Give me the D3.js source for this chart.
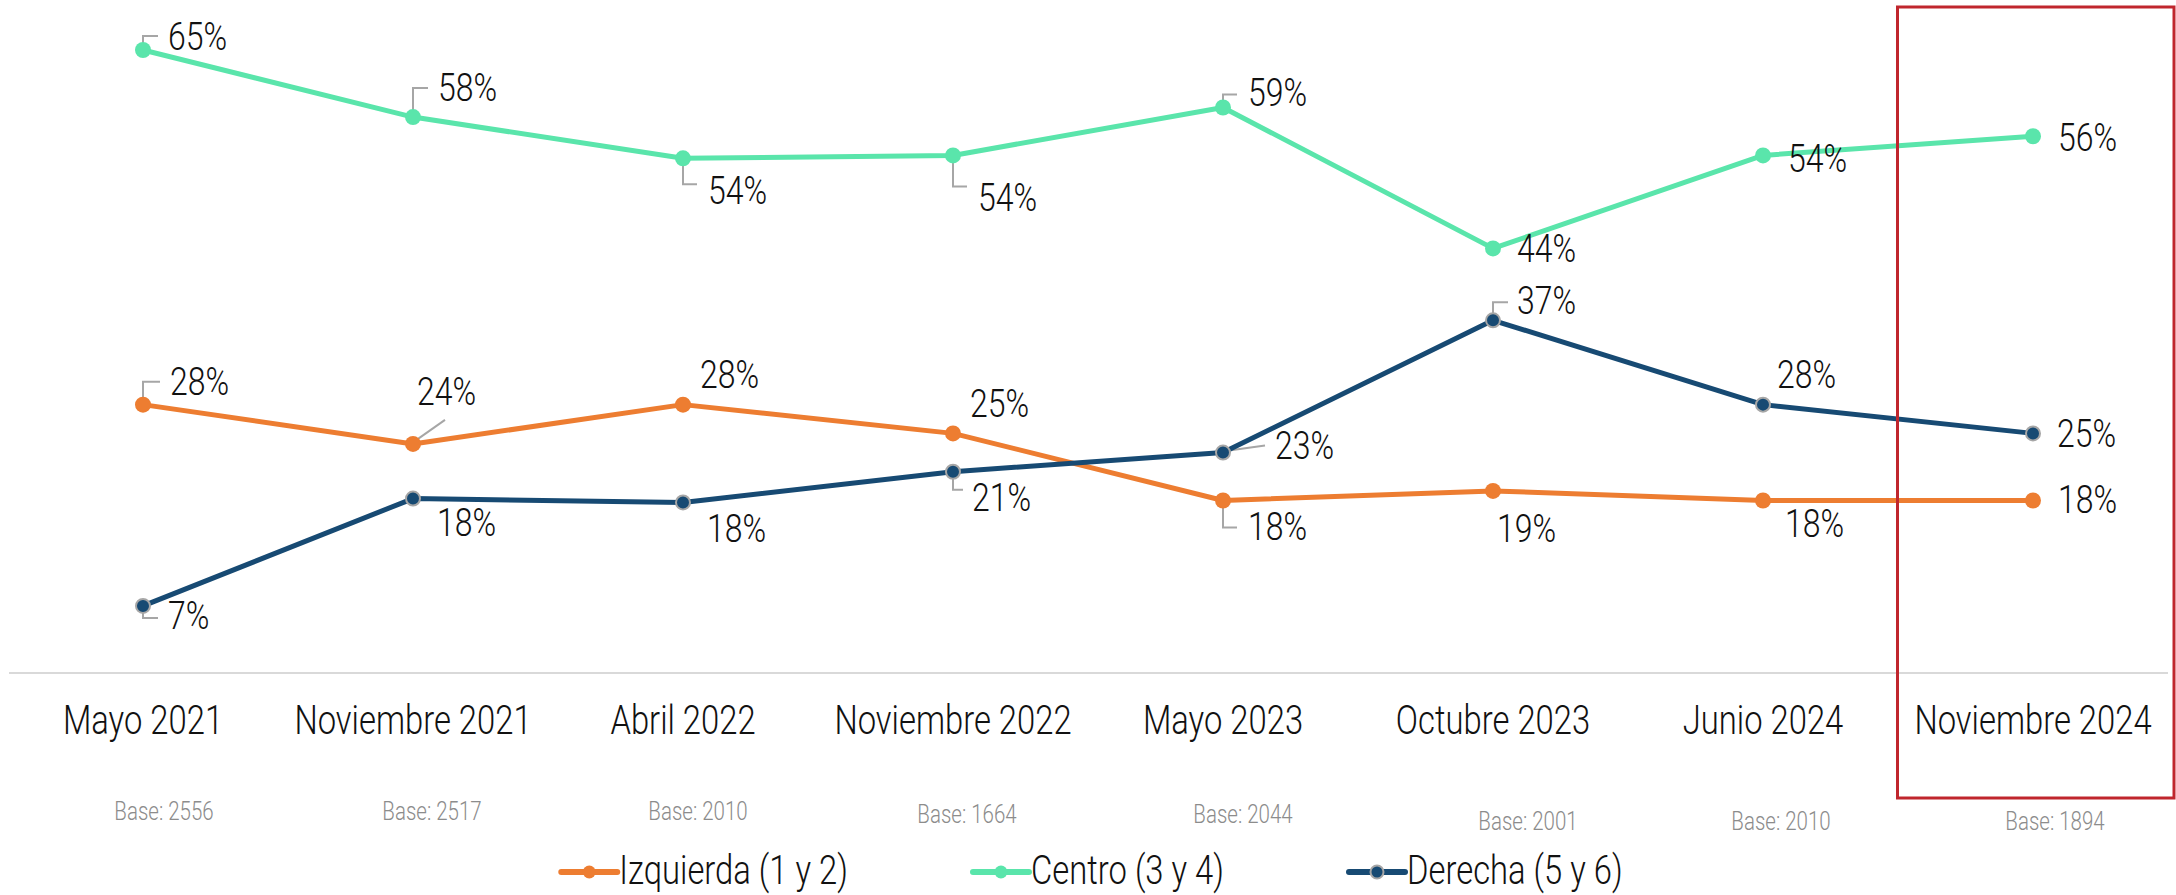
<!DOCTYPE html>
<html>
<head>
<meta charset="utf-8">
<script src="https://cdn.jsdelivr.net/npm/d3@7"></script>
<style>
  html, body { margin:0; padding:0; background:#fff; }
  svg { display:block; font-family: Roboto, "Noto Sans", sans-serif; font-weight:300; }
</style>
</head>
<body>
<svg id="chart" width="2176" height="895"></svg>
<script>
var periods = ['Mayo 2021', 'Noviembre 2021', 'Abril 2022', 'Noviembre 2022', 'Mayo 2023', 'Octubre 2023', 'Junio 2024', 'Noviembre 2024']
  , bases = [2556, 2517, 2010, 1664, 2044, 2001, 2010, 1894]
  , izquierda = [28, 23.9, 28, 25, 18, 19, 18, 18]
  , centro = [65, 58, 53.7, 54, 59, 44.3, 54, 56]
  , derecha = [7, 18.2, 17.8, 21, 23, 36.8, 28, 25]

// label nudges per point: [dx, dy, leader polyline (relative to point) or null]
var izqLabels = [
  [27, -10, [[0,-3],[0,-23],[17,-23]]]
  , [4, -39, [[5,-5],[32,-24]]]
  , [17, -17, null]
  , [17, -16, null]
  , [25, 40, [[0,3],[0,27],[14,27]]]
  , [4, 51, null]
  , [22, 37, null]
  , [25, 13, null]
]
var cenLabels = [
  [25, 0, [[0,-3],[0,-14],[15,-14]]]
  , [25, -16, [[0,-3],[0,-29],[15,-29]]]
  , [25, 46, [[0,3],[0,26],[14,26]]]
  , [25, 56, [[0,3],[0,31],[14,31]]]
  , [25, -2, [[0,-3],[0,-13],[14,-13]]]
  , [24, 14, null]
  , [25, 17, null]
  , [25, 15, null]
]
var derLabels = [
  [25, 23, [[0,3],[0,12],[15,12]]]
  , [24, 37, null]
  , [24, 40, null]
  , [19, 39, [[0,4],[0,18],[10,18]]]
  , [52, 6, [[6,-2],[42,-7]]]
  , [24, -6, [[0,-3],[0,-18],[15,-18]]]
  , [14, -17, null]
  , [24, 14, null]
]
var baseNudge = [[21, 820], [19, 820], [15, 820], [14, 823], [20, 823], [35, 830], [18, 830], [22, 830]]

var series = [
  { name:'Izquierda (1 y 2)', values:izquierda, color:'#ED7D31', stroke:null, labels:izqLabels }
  , { name:'Centro (3 y 4)', values:centro, color:'#5AE5AB', stroke:null, labels:cenLabels }
  , { name:'Derecha (5 y 6)', values:derecha, color:'#174A73', stroke:'#A6A6A6', labels:derLabels }
]

var sx = 0.82 // fake condensed face
var svg = d3.select('#chart')

var x = d3.scalePoint().domain(periods).range([143, 2033])
var y = d3.scaleLinear().domain([0, 65]).range([673, 50])

function txt(g, str, px, py, size, anchor, fill) {
  return g.append('text')
    .attr('transform', 'translate(' + px + ',' + py + ') scale(' + sx + ',1)')
    .attr('text-anchor', anchor)
    .attr('font-size', size)
    .attr('fill', fill)
    .text(str)
}

// baseline
svg.append('line')
  .attr('x1', 9).attr('x2', 2168)
  .attr('y1', y(0)).attr('y2', y(0))
  .attr('stroke', '#D9D9D9').attr('stroke-width', 2)

// category labels + bases
var axisG = svg.append('g')
periods.forEach(function(p, i) {
  txt(axisG, p, x(p), 734, 40, 'middle', '#111')
  txt(axisG, 'Base: ' + bases[i], x(p) + baseNudge[i][0], baseNudge[i][1], 25, 'middle', '#8C8C8C')
})

var line = d3.line()
  .x(function(d, i) { return x(periods[i]) })
  .y(function(d) { return y(d) })

var leaderG = svg.append('g')
var linesG = svg.append('g')
var labelG = svg.append('g')

series.forEach(function(s) {
  linesG.append('path')
    .datum(s.values)
    .attr('d', line)
    .attr('fill', 'none')
    .attr('stroke', s.color)
    .attr('stroke-width', 5)
    .attr('stroke-linejoin', 'round')

  linesG.selectAll(null)
    .data(s.values)
    .enter().append('circle')
      .attr('cx', function(d, i) { return x(periods[i]) })
      .attr('cy', function(d) { return y(d) })
      .attr('r', s.stroke ? 7 : 8)
      .attr('fill', s.color)
      .attr('stroke', s.stroke || 'none')
      .attr('stroke-width', 2)

  s.values.forEach(function(v, i) {
    var px = x(periods[i]), py = y(v), lb = s.labels[i]
    if (lb[2]) {
      leaderG.append('polyline')
        .attr('points', lb[2].map(function(p) { return (px + p[0]) + ',' + (py + p[1]) }).join(' '))
        .attr('fill', 'none')
        .attr('stroke', '#A6A6A6')
        .attr('stroke-width', 2)
    }
    txt(labelG, Math.round(v) + '%', px + lb[0], py + lb[1], 39, 'start', '#111')
  })
})

// highlight box on the latest wave
svg.append('rect')
  .attr('x', 1897.5).attr('y', 7)
  .attr('width', 276.5).attr('height', 791)
  .attr('fill', 'none')
  .attr('stroke', '#C0262D')
  .attr('stroke-width', 3)

// legend
var legG = svg.append('g')
var items = series.map(function(s) {
  var g = legG.append('g')
  g.append('line')
    .attr('x1', 0).attr('x2', 56).attr('y1', 0).attr('y2', 0)
    .attr('stroke', s.color).attr('stroke-width', 6).attr('stroke-linecap', 'round')
  g.append('circle')
    .attr('cx', 28).attr('cy', 0).attr('r', 6.5)
    .attr('fill', s.color)
    .attr('stroke', s.stroke || 'none').attr('stroke-width', 2)
  var t = txt(g, s.name, 58, 12, 40, 'start', '#111')
  return { g:g, w:58 + t.node().getComputedTextLength() * sx }
})
var gap = 125
var totalW = d3.sum(items, function(d) { return d.w }) + gap * (items.length - 1)
var lx = 1092 - totalW / 2
items.forEach(function(it) {
  it.g.attr('transform', 'translate(' + lx + ',872)')
  lx += it.w + gap
})
</script>
</body>
</html>
